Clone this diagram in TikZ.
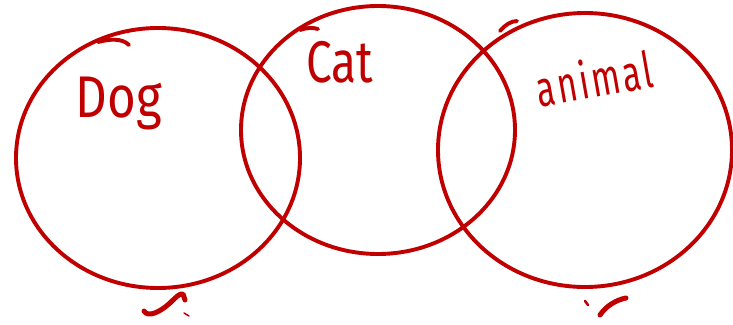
\documentclass[tikz,border=0pt]{standalone}
\usepackage{fontspec}
\usepackage{graphicx}
\setmainfont{Fira Sans}
\definecolor{pen}{RGB}{192,0,0}
\tikzset{
  inkline/.style={draw=pen, line width=3.9pt, line cap=round, line join=round},
  inkmark/.style={draw=pen, line width=5pt, line cap=round, line join=round},
  word/.style={text=pen, inner sep=0pt, font=\fontseries{m}\selectfont}
}
\begin{document}
\begin{tikzpicture}[x=1pt,y=-1pt]
\useasboundingbox (0,0) rectangle (733,324);
% circles
\draw[inkline] (158,158) ellipse [x radius=142, y radius=130];
\draw[inkline] (378,130) ellipse [x radius=137, y radius=124];
\draw[inkline] (585,150) ellipse [x radius=147, y radius=137];
% pen tails
\draw[inkline] (98,42) .. controls (110,39) and (122,38) .. (129,45);
\draw[inkline] (300,30) .. controls (306,28) and (312,27) .. (318,29);
\draw[inkline] (500,31) .. controls (505,25) and (511,21) .. (517,21);
% labels
\node[word] (dog) at (119,104) {\fontsize{56}{56}\selectfont\scalebox{0.88}[1.05]{Dog}};
\node[word] (cat) at (340,62) {\fontsize{56}{56}\selectfont\scalebox{0.82}[1.05]{Cat}};
\node[word, rotate=10] (animal) at (594,78) {\fontsize{42}{42}\selectfont\addfontfeature{LetterSpace=8}\scalebox{0.8}[1.2]{animal}};
% stray marks
\draw[inkmark] (144,311) .. controls (148,318) and (160,312) .. (170,303) .. controls (176,297) and (180,293) .. (183,294) -- (185,300);
\draw[line width=1.5pt, pen, line cap=round] (184,313) -- (189,316);
\draw[line width=2.5pt, pen, line cap=round] (585,301) -- (588,305);
\draw[inkmark] (600,315) .. controls (606,306) and (616,300) .. (626,298);
\end{tikzpicture}
\end{document}
